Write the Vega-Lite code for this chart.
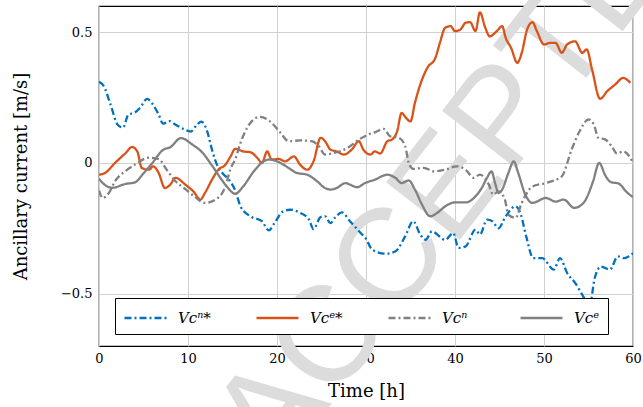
{
 "$schema": "https://vega.github.io/schema/vega-lite/v6.json",
 "width": 534, "height": 340,
 "autosize": {"type": "none"},
 "padding": {"left": 99, "top": 6, "right": 10, "bottom": 61},
 "background": "white",
 "config": {"view": {"stroke": "black", "strokeWidth": 1.2}, "font": "DejaVu Serif"},
 "encoding": {
  "x": {"field": "t", "type": "quantitative", "scale": {"domain": [0, 60], "nice": false, "zero": false},
   "axis": {"values": [0, 10, 20, 30, 40, 50, 60], "title": "Time [h]", "grid": true, "gridColor": "#d0d0d0", "gridWidth": 1, "ticks": false, "domain": false, "labelFont": "DejaVu Serif", "labelFontSize": 13, "labelColor": "black", "labelPadding": 6, "labelFlush": false, "titleFont": "DejaVu Serif", "titleFontSize": 18, "titleFontWeight": "normal", "titleColor": "black", "titlePadding": 17}},
  "y": {"field": "v", "type": "quantitative", "scale": {"domain": [-0.7, 0.6], "nice": false, "zero": false},
   "axis": {"values": [-0.5, 0, 0.5], "labelExpr": "datum.value == 0 ? '0' : format(datum.value, '.1f')", "title": "Ancillary current  [m/s]", "grid": true, "gridColor": "#d0d0d0", "gridWidth": 1, "ticks": false, "domain": false, "labelFont": "DejaVu Serif", "labelFontSize": 13, "labelColor": "black", "labelPadding": 7, "labelFlush": false, "titleFont": "DejaVu Serif", "titleFontSize": 18, "titleFontWeight": "normal", "titleColor": "black", "titlePadding": 30}}
 },
 "layer": [
  {"data": {"values": [{"label": "ACCEPTED", "t": 41.9, "v": 0.02}]},
   "mark": {"type": "text", "font": "Liberation Sans", "fontSize": 136, "angle": -52, "align": "center", "baseline": "middle", "color": "#dcdcdc", "clip": false},
   "encoding": {"text": {"field": "label"}}},
  {"data": {"values": [
{"s":"Vcⁿ*","t":0,"v":0.31},{"s":"Vcⁿ*","t":0.5,"v":0.296},{"s":"Vcⁿ*","t":1.3,"v":0.223},{"s":"Vcⁿ*","t":2.1,"v":0.146},{"s":"Vcⁿ*","t":2.7,"v":0.135},{"s":"Vcⁿ*","t":3.3,"v":0.185},{"s":"Vcⁿ*","t":4.0,"v":0.192},{"s":"Vcⁿ*","t":4.6,"v":0.21},{"s":"Vcⁿ*","t":5.4,"v":0.245},{"s":"Vcⁿ*","t":6.0,"v":0.226},{"s":"Vcⁿ*","t":6.7,"v":0.185},{"s":"Vcⁿ*","t":7.2,"v":0.15},{"s":"Vcⁿ*","t":7.9,"v":0.16},{"s":"Vcⁿ*","t":8.6,"v":0.146},{"s":"Vcⁿ*","t":9.5,"v":0.13},{"s":"Vcⁿ*","t":10.3,"v":0.12},{"s":"Vcⁿ*","t":11.0,"v":0.146},{"s":"Vcⁿ*","t":11.5,"v":0.158},{"s":"Vcⁿ*","t":12.1,"v":0.127},{"s":"Vcⁿ*","t":12.7,"v":0.05},{"s":"Vcⁿ*","t":13.4,"v":-0.018},{"s":"Vcⁿ*","t":13.9,"v":-0.04},{"s":"Vcⁿ*","t":14.6,"v":-0.064},{"s":"Vcⁿ*","t":15.3,"v":-0.105},{"s":"Vcⁿ*","t":15.9,"v":-0.166},{"s":"Vcⁿ*","t":17.0,"v":-0.204},{"s":"Vcⁿ*","t":18.3,"v":-0.223},{"s":"Vcⁿ*","t":19.1,"v":-0.258},{"s":"Vcⁿ*","t":19.6,"v":-0.236},{"s":"Vcⁿ*","t":20.7,"v":-0.185},{"s":"Vcⁿ*","t":21.5,"v":-0.179},{"s":"Vcⁿ*","t":22.6,"v":-0.191},{"s":"Vcⁿ*","t":23.6,"v":-0.217},{"s":"Vcⁿ*","t":24.1,"v":-0.253},{"s":"Vcⁿ*","t":24.9,"v":-0.207},{"s":"Vcⁿ*","t":25.4,"v":-0.204},{"s":"Vcⁿ*","t":26.0,"v":-0.23},{"s":"Vcⁿ*","t":26.5,"v":-0.21},{"s":"Vcⁿ*","t":27.3,"v":-0.189},{"s":"Vcⁿ*","t":28.2,"v":-0.223},{"s":"Vcⁿ*","t":29.4,"v":-0.268},{"s":"Vcⁿ*","t":30.0,"v":-0.29},{"s":"Vcⁿ*","t":30.7,"v":-0.332},{"s":"Vcⁿ*","t":32.2,"v":-0.347},{"s":"Vcⁿ*","t":33.3,"v":-0.338},{"s":"Vcⁿ*","t":34.4,"v":-0.281},{"s":"Vcⁿ*","t":35.3,"v":-0.223},{"s":"Vcⁿ*","t":36.1,"v":-0.274},{"s":"Vcⁿ*","t":36.7,"v":-0.294},{"s":"Vcⁿ*","t":37.4,"v":-0.262},{"s":"Vcⁿ*","t":38.9,"v":-0.294},{"s":"Vcⁿ*","t":39.8,"v":-0.268},{"s":"Vcⁿ*","t":40.4,"v":-0.325},{"s":"Vcⁿ*","t":41.2,"v":-0.319},{"s":"Vcⁿ*","t":42.3,"v":-0.255},{"s":"Vcⁿ*","t":42.8,"v":-0.274},{"s":"Vcⁿ*","t":43.6,"v":-0.217},{"s":"Vcⁿ*","t":44.2,"v":-0.223},{"s":"Vcⁿ*","t":44.9,"v":-0.25},{"s":"Vcⁿ*","t":45.6,"v":-0.21},{"s":"Vcⁿ*","t":46.8,"v":-0.166},{"s":"Vcⁿ*","t":47.4,"v":-0.198},{"s":"Vcⁿ*","t":48.0,"v":-0.281},{"s":"Vcⁿ*","t":48.8,"v":-0.364},{"s":"Vcⁿ*","t":49.8,"v":-0.364},{"s":"Vcⁿ*","t":51.1,"v":-0.408},{"s":"Vcⁿ*","t":51.8,"v":-0.364},{"s":"Vcⁿ*","t":52.6,"v":-0.421},{"s":"Vcⁿ*","t":53.5,"v":-0.459},{"s":"Vcⁿ*","t":54.4,"v":-0.51},{"s":"Vcⁿ*","t":55.1,"v":-0.55},{"s":"Vcⁿ*","t":55.7,"v":-0.44},{"s":"Vcⁿ*","t":56.4,"v":-0.396},{"s":"Vcⁿ*","t":57.4,"v":-0.408},{"s":"Vcⁿ*","t":58.3,"v":-0.357},{"s":"Vcⁿ*","t":59.0,"v":-0.364},{"s":"Vcⁿ*","t":60.0,"v":-0.345},
{"s":"Vcᵉ*","t":0,"v":-0.045},{"s":"Vcᵉ*","t":0.7,"v":-0.038},{"s":"Vcᵉ*","t":1.8,"v":0.0},{"s":"Vcᵉ*","t":3.0,"v":0.038},{"s":"Vcᵉ*","t":3.7,"v":0.061},{"s":"Vcᵉ*","t":4.3,"v":0.044},{"s":"Vcᵉ*","t":4.8,"v":-0.019},{"s":"Vcᵉ*","t":5.6,"v":-0.026},{"s":"Vcᵉ*","t":6.1,"v":-0.013},{"s":"Vcᵉ*","t":6.7,"v":-0.038},{"s":"Vcᵉ*","t":7.4,"v":-0.096},{"s":"Vcᵉ*","t":8.0,"v":-0.083},{"s":"Vcᵉ*","t":8.6,"v":-0.057},{"s":"Vcᵉ*","t":9.7,"v":-0.083},{"s":"Vcᵉ*","t":10.6,"v":-0.109},{"s":"Vcᵉ*","t":11.4,"v":-0.14},{"s":"Vcᵉ*","t":11.9,"v":-0.115},{"s":"Vcᵉ*","t":12.7,"v":-0.064},{"s":"Vcᵉ*","t":13.4,"v":-0.026},{"s":"Vcᵉ*","t":14.2,"v":-0.007},{"s":"Vcᵉ*","t":14.8,"v":0.026},{"s":"Vcᵉ*","t":15.3,"v":0.054},{"s":"Vcᵉ*","t":16.2,"v":0.044},{"s":"Vcᵉ*","t":17.0,"v":0.041},{"s":"Vcᵉ*","t":17.8,"v":0.019},{"s":"Vcᵉ*","t":18.3,"v":0.0},{"s":"Vcᵉ*","t":18.9,"v":0.044},{"s":"Vcᵉ*","t":19.4,"v":0.013},{"s":"Vcᵉ*","t":20.2,"v":0.015},{"s":"Vcᵉ*","t":20.9,"v":0.006},{"s":"Vcᵉ*","t":21.9,"v":0.025},{"s":"Vcᵉ*","t":22.6,"v":-0.007},{"s":"Vcᵉ*","t":23.4,"v":-0.026},{"s":"Vcᵉ*","t":24.1,"v":0.006},{"s":"Vcᵉ*","t":24.9,"v":0.096},{"s":"Vcᵉ*","t":25.4,"v":0.083},{"s":"Vcᵉ*","t":26.0,"v":0.051},{"s":"Vcᵉ*","t":26.7,"v":0.044},{"s":"Vcᵉ*","t":27.5,"v":0.032},{"s":"Vcᵉ*","t":28.4,"v":0.051},{"s":"Vcᵉ*","t":29.2,"v":0.083},{"s":"Vcᵉ*","t":29.7,"v":0.051},{"s":"Vcᵉ*","t":30.5,"v":0.032},{"s":"Vcᵉ*","t":31.0,"v":0.044},{"s":"Vcᵉ*","t":31.6,"v":0.036},{"s":"Vcᵉ*","t":32.4,"v":0.083},{"s":"Vcᵉ*","t":32.9,"v":0.089},{"s":"Vcᵉ*","t":33.5,"v":0.121},{"s":"Vcᵉ*","t":34.0,"v":0.191},{"s":"Vcᵉ*","t":34.5,"v":0.172},{"s":"Vcᵉ*","t":35.0,"v":0.159},{"s":"Vcᵉ*","t":35.5,"v":0.23},{"s":"Vcᵉ*","t":36.1,"v":0.3},{"s":"Vcᵉ*","t":36.9,"v":0.364},{"s":"Vcᵉ*","t":37.8,"v":0.402},{"s":"Vcᵉ*","t":38.3,"v":0.459},{"s":"Vcᵉ*","t":38.9,"v":0.517},{"s":"Vcᵉ*","t":39.5,"v":0.523},{"s":"Vcᵉ*","t":40.0,"v":0.504},{"s":"Vcᵉ*","t":40.6,"v":0.51},{"s":"Vcᵉ*","t":41.2,"v":0.536},{"s":"Vcᵉ*","t":41.7,"v":0.538},{"s":"Vcᵉ*","t":42.3,"v":0.504},{"s":"Vcᵉ*","t":42.8,"v":0.576},{"s":"Vcᵉ*","t":43.4,"v":0.517},{"s":"Vcᵉ*","t":43.9,"v":0.484},{"s":"Vcᵉ*","t":44.7,"v":0.504},{"s":"Vcᵉ*","t":45.3,"v":0.523},{"s":"Vcᵉ*","t":45.7,"v":0.478},{"s":"Vcᵉ*","t":46.3,"v":0.44},{"s":"Vcᵉ*","t":47.0,"v":0.383},{"s":"Vcᵉ*","t":47.5,"v":0.421},{"s":"Vcᵉ*","t":48.1,"v":0.51},{"s":"Vcᵉ*","t":48.7,"v":0.538},{"s":"Vcᵉ*","t":49.2,"v":0.504},{"s":"Vcᵉ*","t":50.0,"v":0.453},{"s":"Vcᵉ*","t":50.7,"v":0.459},{"s":"Vcᵉ*","t":51.3,"v":0.459},{"s":"Vcᵉ*","t":52.0,"v":0.421},{"s":"Vcᵉ*","t":52.6,"v":0.453},{"s":"Vcᵉ*","t":53.5,"v":0.465},{"s":"Vcᵉ*","t":54.3,"v":0.421},{"s":"Vcᵉ*","t":54.8,"v":0.434},{"s":"Vcᵉ*","t":55.4,"v":0.357},{"s":"Vcᵉ*","t":56.3,"v":0.245},{"s":"Vcᵉ*","t":57.1,"v":0.274},{"s":"Vcᵉ*","t":58.0,"v":0.3},{"s":"Vcᵉ*","t":58.9,"v":0.325},{"s":"Vcᵉ*","t":59.7,"v":0.306},
{"s":"Vcⁿ","t":0,"v":-0.105},{"s":"Vcⁿ","t":0.4,"v":-0.134},{"s":"Vcⁿ","t":1.1,"v":-0.115},{"s":"Vcⁿ","t":1.8,"v":-0.07},{"s":"Vcⁿ","t":3.0,"v":-0.03},{"s":"Vcⁿ","t":4.1,"v":-0.005},{"s":"Vcⁿ","t":5.6,"v":0.02},{"s":"Vcⁿ","t":6.7,"v":0.015},{"s":"Vcⁿ","t":7.6,"v":-0.026},{"s":"Vcⁿ","t":8.6,"v":-0.07},{"s":"Vcⁿ","t":9.7,"v":-0.1},{"s":"Vcⁿ","t":10.8,"v":-0.13},{"s":"Vcⁿ","t":11.9,"v":-0.153},{"s":"Vcⁿ","t":13.1,"v":-0.14},{"s":"Vcⁿ","t":14.2,"v":-0.09},{"s":"Vcⁿ","t":14.8,"v":-0.02},{"s":"Vcⁿ","t":15.3,"v":0.013},{"s":"Vcⁿ","t":15.9,"v":0.077},{"s":"Vcⁿ","t":17.0,"v":0.153},{"s":"Vcⁿ","t":18.1,"v":0.176},{"s":"Vcⁿ","t":19.2,"v":0.159},{"s":"Vcⁿ","t":20.4,"v":0.115},{"s":"Vcⁿ","t":21.3,"v":0.083},{"s":"Vcⁿ","t":22.6,"v":0.086},{"s":"Vcⁿ","t":23.9,"v":0.083},{"s":"Vcⁿ","t":24.7,"v":0.064},{"s":"Vcⁿ","t":25.4,"v":0.032},{"s":"Vcⁿ","t":26.4,"v":0.038},{"s":"Vcⁿ","t":27.9,"v":0.057},{"s":"Vcⁿ","t":29.2,"v":0.089},{"s":"Vcⁿ","t":30.5,"v":0.112},{"s":"Vcⁿ","t":31.0,"v":0.117},{"s":"Vcⁿ","t":32.0,"v":0.13},{"s":"Vcⁿ","t":32.7,"v":0.102},{"s":"Vcⁿ","t":33.7,"v":0.096},{"s":"Vcⁿ","t":34.4,"v":0.064},{"s":"Vcⁿ","t":34.8,"v":0.0},{"s":"Vcⁿ","t":35.3,"v":-0.023},{"s":"Vcⁿ","t":36.5,"v":-0.019},{"s":"Vcⁿ","t":37.6,"v":-0.032},{"s":"Vcⁿ","t":38.9,"v":-0.026},{"s":"Vcⁿ","t":40.2,"v":-0.013},{"s":"Vcⁿ","t":41.2,"v":-0.026},{"s":"Vcⁿ","t":42.1,"v":-0.057},{"s":"Vcⁿ","t":42.8,"v":-0.045},{"s":"Vcⁿ","t":43.8,"v":-0.083},{"s":"Vcⁿ","t":44.3,"v":-0.121},{"s":"Vcⁿ","t":44.9,"v":-0.109},{"s":"Vcⁿ","t":45.6,"v":-0.14},{"s":"Vcⁿ","t":46.0,"v":-0.198},{"s":"Vcⁿ","t":46.8,"v":-0.21},{"s":"Vcⁿ","t":47.5,"v":-0.153},{"s":"Vcⁿ","t":48.7,"v":-0.09},{"s":"Vcⁿ","t":50.2,"v":-0.077},{"s":"Vcⁿ","t":52.0,"v":-0.051},{"s":"Vcⁿ","t":53.1,"v":0.051},{"s":"Vcⁿ","t":54.0,"v":0.121},{"s":"Vcⁿ","t":55.0,"v":0.166},{"s":"Vcⁿ","t":55.6,"v":0.147},{"s":"Vcⁿ","t":56.1,"v":0.096},{"s":"Vcⁿ","t":56.9,"v":0.089},{"s":"Vcⁿ","t":57.6,"v":0.064},{"s":"Vcⁿ","t":58.2,"v":0.036},{"s":"Vcⁿ","t":58.9,"v":0.044},{"s":"Vcⁿ","t":59.7,"v":0.019},{"s":"Vcⁿ","t":60,"v":0.0},
{"s":"Vcᵉ","t":0,"v":-0.06},{"s":"Vcᵉ","t":0.7,"v":-0.085},{"s":"Vcᵉ","t":1.5,"v":-0.095},{"s":"Vcᵉ","t":3.0,"v":-0.08},{"s":"Vcᵉ","t":4.0,"v":-0.075},{"s":"Vcᵉ","t":5.0,"v":-0.04},{"s":"Vcᵉ","t":6.0,"v":0.0},{"s":"Vcᵉ","t":7.2,"v":0.05},{"s":"Vcᵉ","t":8.0,"v":0.06},{"s":"Vcᵉ","t":9.2,"v":0.095},{"s":"Vcᵉ","t":10.5,"v":0.07},{"s":"Vcᵉ","t":11.6,"v":0.04},{"s":"Vcᵉ","t":12.7,"v":-0.01},{"s":"Vcᵉ","t":13.8,"v":-0.065},{"s":"Vcᵉ","t":14.6,"v":-0.1},{"s":"Vcᵉ","t":15.3,"v":-0.118},{"s":"Vcᵉ","t":16.2,"v":-0.09},{"s":"Vcᵉ","t":17.4,"v":-0.032},{"s":"Vcᵉ","t":18.5,"v":0.006},{"s":"Vcᵉ","t":19.1,"v":0.013},{"s":"Vcᵉ","t":20.4,"v":0.0},{"s":"Vcᵉ","t":21.3,"v":-0.019},{"s":"Vcᵉ","t":22.2,"v":-0.038},{"s":"Vcᵉ","t":23.4,"v":-0.045},{"s":"Vcᵉ","t":24.5,"v":-0.07},{"s":"Vcᵉ","t":25.4,"v":-0.096},{"s":"Vcᵉ","t":26.0,"v":-0.102},{"s":"Vcᵉ","t":26.7,"v":-0.096},{"s":"Vcᵉ","t":27.7,"v":-0.077},{"s":"Vcᵉ","t":28.2,"v":-0.083},{"s":"Vcᵉ","t":29.0,"v":-0.093},{"s":"Vcᵉ","t":29.9,"v":-0.077},{"s":"Vcᵉ","t":31.0,"v":-0.064},{"s":"Vcᵉ","t":32.4,"v":-0.045},{"s":"Vcᵉ","t":33.3,"v":-0.057},{"s":"Vcᵉ","t":34.0,"v":-0.077},{"s":"Vcᵉ","t":34.8,"v":-0.067},{"s":"Vcᵉ","t":35.5,"v":-0.102},{"s":"Vcᵉ","t":36.3,"v":-0.16},{"s":"Vcᵉ","t":37.2,"v":-0.204},{"s":"Vcᵉ","t":38.0,"v":-0.191},{"s":"Vcᵉ","t":38.9,"v":-0.166},{"s":"Vcᵉ","t":40.0,"v":-0.151},{"s":"Vcᵉ","t":41.2,"v":-0.151},{"s":"Vcᵉ","t":42.3,"v":-0.128},{"s":"Vcᵉ","t":43.0,"v":-0.096},{"s":"Vcᵉ","t":43.6,"v":-0.057},{"s":"Vcᵉ","t":44.1,"v":-0.032},{"s":"Vcᵉ","t":44.5,"v":-0.077},{"s":"Vcᵉ","t":44.9,"v":-0.115},{"s":"Vcᵉ","t":45.3,"v":-0.102},{"s":"Vcᵉ","t":46.0,"v":-0.038},{"s":"Vcᵉ","t":46.6,"v":0.006},{"s":"Vcᵉ","t":47.1,"v":-0.038},{"s":"Vcᵉ","t":47.9,"v":-0.121},{"s":"Vcᵉ","t":48.7,"v":-0.153},{"s":"Vcᵉ","t":50.2,"v":-0.134},{"s":"Vcᵉ","t":51.3,"v":-0.148},{"s":"Vcᵉ","t":52.2,"v":-0.14},{"s":"Vcᵉ","t":53.4,"v":-0.172},{"s":"Vcᵉ","t":54.5,"v":-0.15},{"s":"Vcᵉ","t":55.5,"v":-0.072},{"s":"Vcᵉ","t":56.2,"v":0.0},{"s":"Vcᵉ","t":56.9,"v":-0.049},{"s":"Vcᵉ","t":57.5,"v":-0.073},{"s":"Vcᵉ","t":58.4,"v":-0.079},{"s":"Vcᵉ","t":59.3,"v":-0.112},{"s":"Vcᵉ","t":60,"v":-0.131}
  ]},
   "mark": {"type": "line", "interpolate": "monotone", "strokeWidth": 2.3, "clip": true},
   "encoding": {
    "color": {"field": "s", "type": "nominal", "scale": {"domain": ["Vcⁿ*", "Vcᵉ*", "Vcⁿ", "Vcᵉ"], "range": ["#0072BD", "#D95319", "#808080", "#808080"]},
     "legend": {"title": null, "orient": "none", "legendX": 16, "legendY": 292, "direction": "horizontal", "columns": 4, "gridAlign": "all", "columnPadding": 40, "padding": 8, "fillColor": "white", "strokeColor": "black", "symbolType": "M-1,0H3", "symbolSize": 441, "symbolStrokeWidth": 2.3, "labelFont": "DejaVu Serif", "labelFontStyle": "italic", "labelFontSize": 15, "labelColor": "black", "labelOffset": 31, "cornerRadius": 0}},
    "strokeDash": {"field": "s", "type": "nominal", "scale": {"domain": ["Vcⁿ*", "Vcᵉ*", "Vcⁿ", "Vcᵉ"], "range": [[7, 3, 2, 3], [1, 0], [7, 3, 2, 3], [1, 0]]},
     "legend": {"title": null, "orient": "none", "legendX": 16, "legendY": 292, "direction": "horizontal", "columns": 4, "gridAlign": "all", "columnPadding": 40, "padding": 8, "fillColor": "white", "strokeColor": "black", "symbolType": "M-1,0H3", "symbolSize": 441, "symbolStrokeWidth": 2.3, "labelFont": "DejaVu Serif", "labelFontStyle": "italic", "labelFontSize": 15, "labelColor": "black", "labelOffset": 31, "cornerRadius": 0}}
   }}
 ]
}
